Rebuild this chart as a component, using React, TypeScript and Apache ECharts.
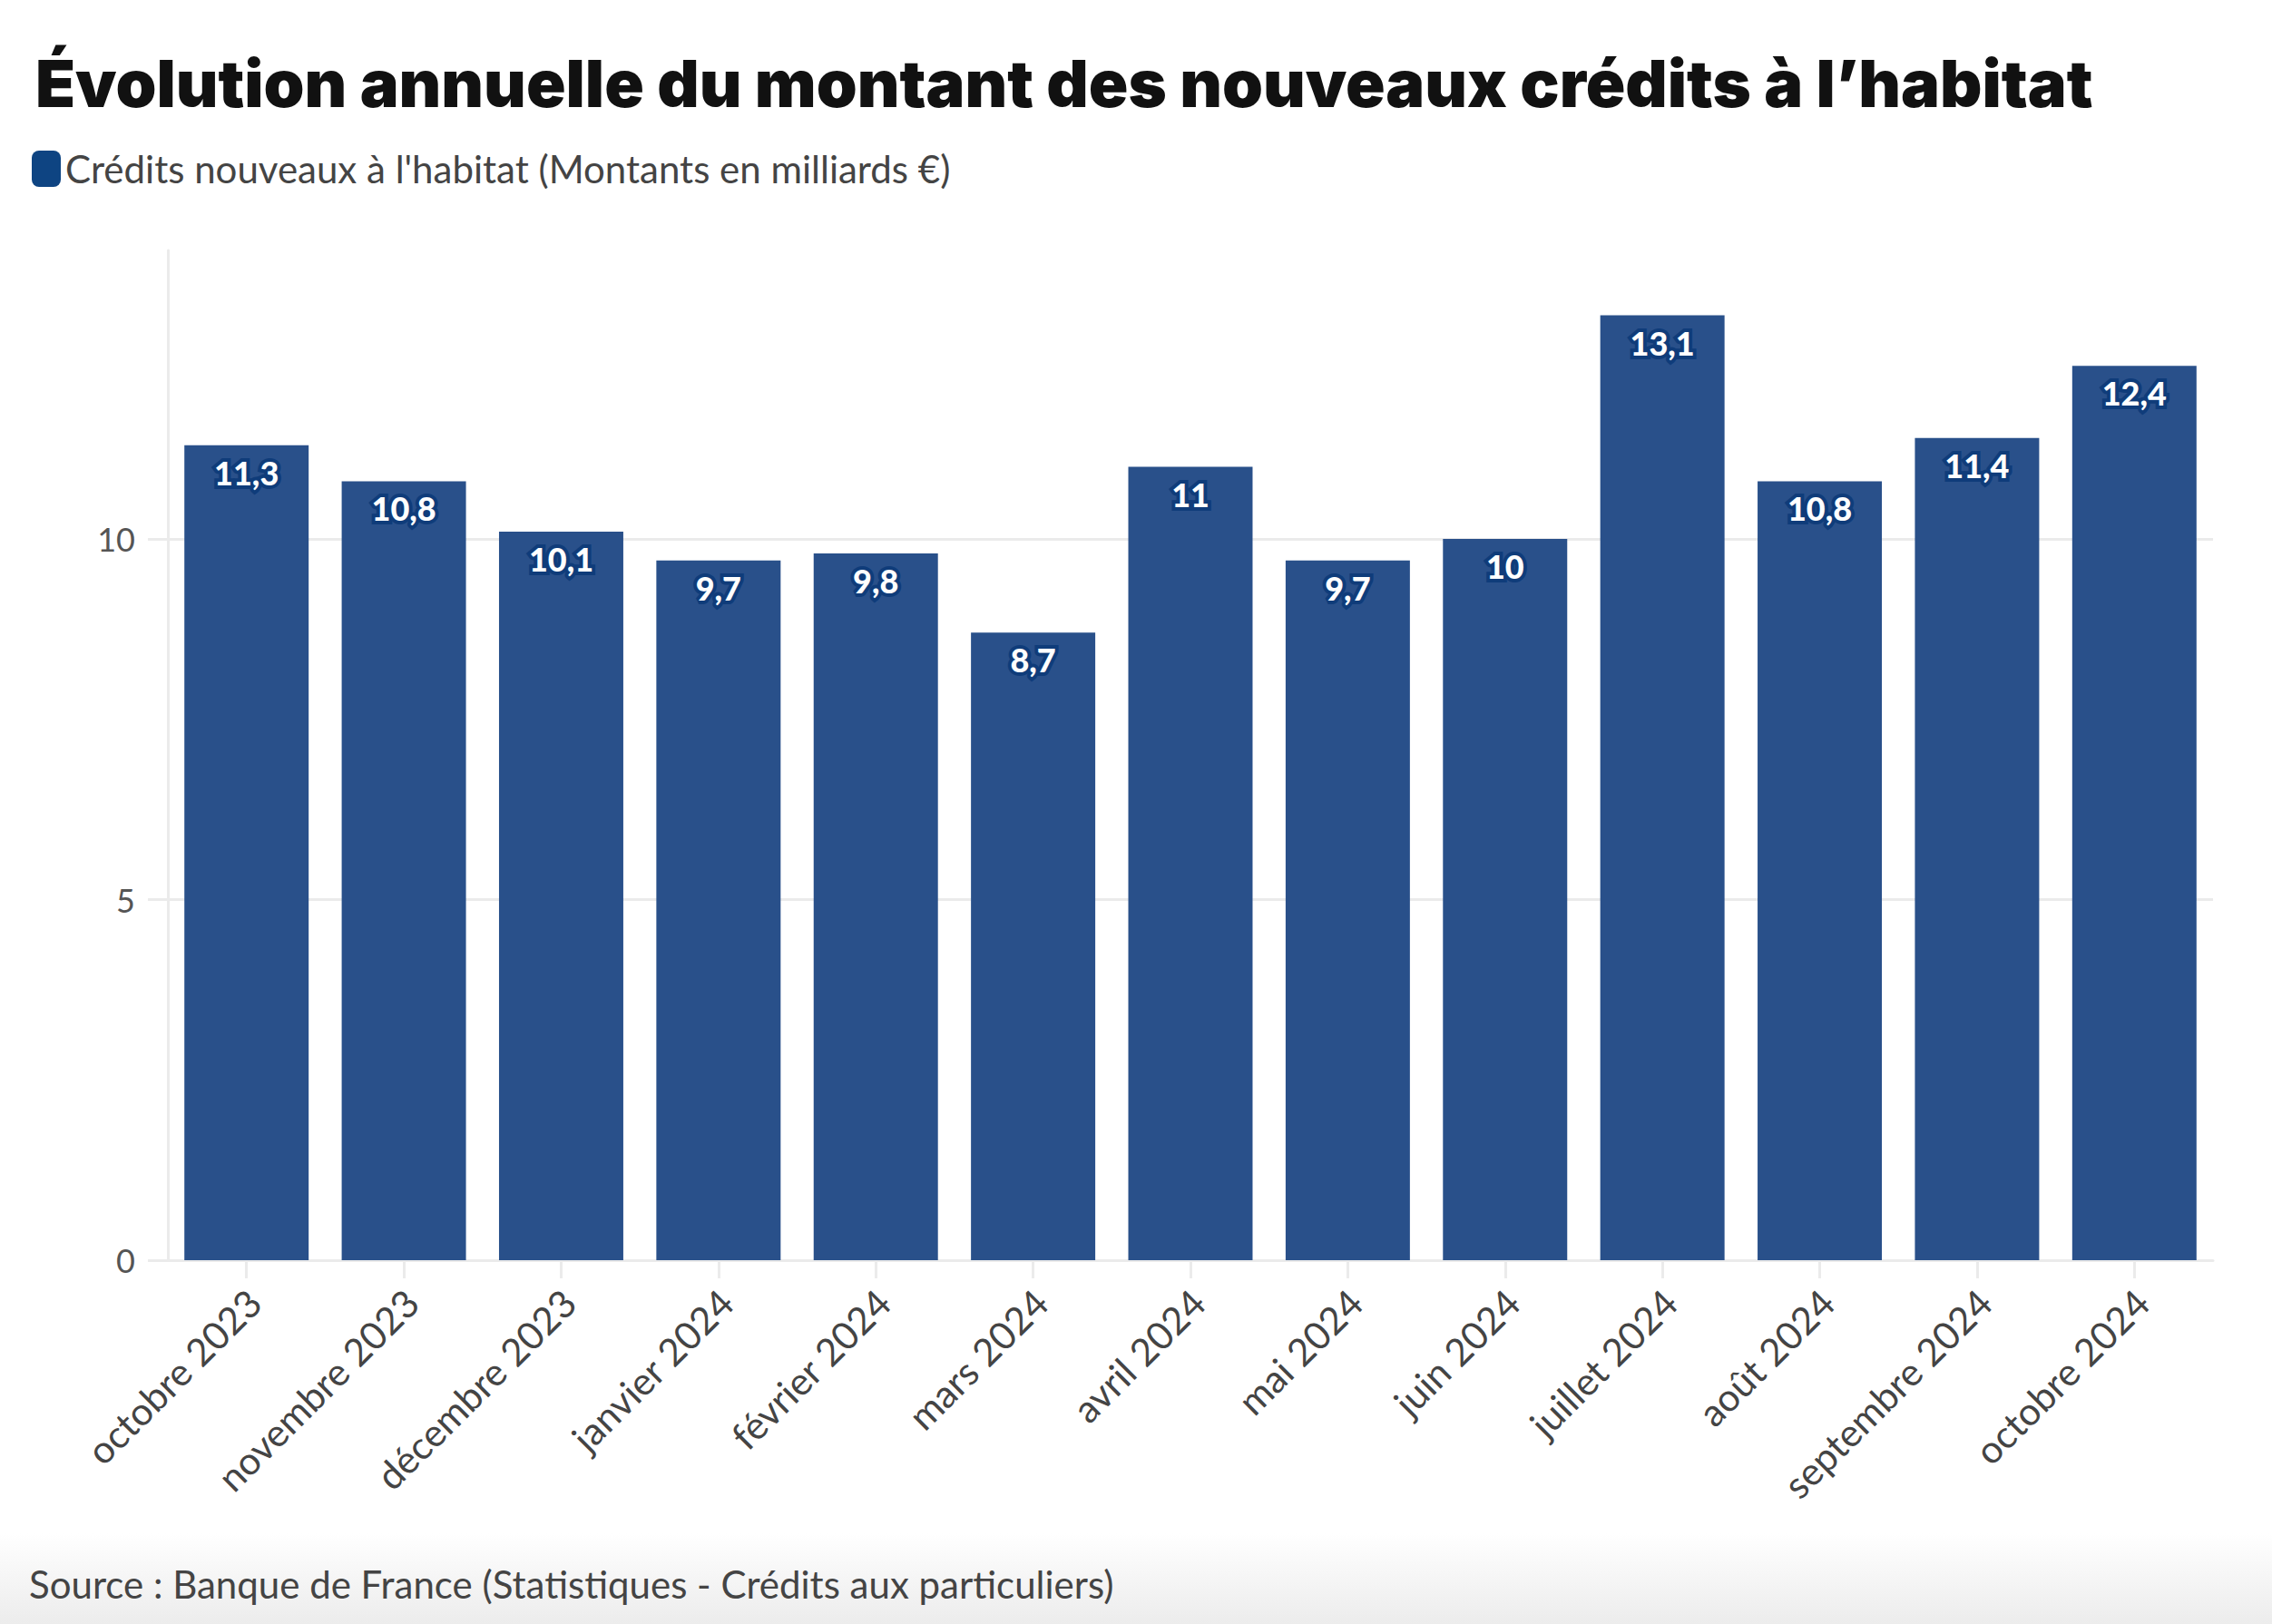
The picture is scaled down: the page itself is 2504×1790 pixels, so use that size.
import React, { useEffect, useRef } from "react";
import * as echarts from "echarts";

const categories = [
  "octobre 2023",
  "novembre 2023",
  "décembre 2023",
  "janvier 2024",
  "février 2024",
  "mars 2024",
  "avril 2024",
  "mai 2024",
  "juin 2024",
  "juillet 2024",
  "août 2024",
  "septembre 2024",
  "octobre 2024",
];
const values = [11.3, 10.8, 10.1, 9.7, 9.8, 8.7, 11, 9.7, 10, 13.1, 10.8, 11.4, 12.4];
const yTicks = [0, 5, 10];
const seriesName = "Crédits nouveaux à l'habitat (Montants en milliards €)";
const titleText = "Évolution annuelle du montant des nouveaux crédits à l’habitat";
const sourceText = "Source : Banque de France (Statistiques - Crédits aux particuliers)";

export default function App() {
  const ref = useRef<HTMLDivElement>(null);
  useEffect(() => {
    if (!ref.current) return;
    const chart = echarts.init(ref.current, null, { renderer: "svg" });
    const grid = "#ebebeb";
    chart.setOption({
      animation: false,
      backgroundColor: "#ffffff",
      title: {
        text: titleText,
        left: 34,
        top: 50,
        textStyle: {
          fontFamily: "Inter",
          fontWeight: 900,
          fontSize: 72,
          color: "#111111",
        },
      },
      legend: {
        left: 30,
        top: 160,
        itemWidth: 32,
        itemHeight: 40,
        itemGap: 10,
        icon: "roundRect",
        data: [{ name: seriesName, itemStyle: { color: "#0e4482" } }],
        textStyle: {
          fontFamily: "Lato",
          fontSize: 42,
          color: "#444444",
        },
      },
      grid: { left: 185, right: 65, top: 276, bottom: 401, containLabel: false },
      xAxis: {
        type: "category",
        data: categories,
        axisLine: { show: true, lineStyle: { color: grid, width: 3 } },
        axisTick: {
          show: true,
          alignWithLabel: true,
          length: 20,
          lineStyle: { color: grid, width: 3 },
        },
        axisLabel: {
          rotate: 45,
          margin: 48,
          interval: 0,
          fontFamily: "Lato",
          fontSize: 42,
          color: "#444444",
          padding: [0, -12, 0, 0],
        },
      },
      yAxis: {
        type: "value",
        min: 0,
        max: 14,
        interval: 5,
        axisLine: { show: true, lineStyle: { color: grid, width: 3 } },
        axisTick: {
          show: true,
          length: 22,
          customValues: yTicks,
          lineStyle: { color: grid, width: 3 },
        },
        splitLine: {
          show: true,
          lineStyle: { color: grid, width: 3 },
        },
        axisLabel: {
          customValues: yTicks,
          margin: 36,
          fontFamily: "Lato",
          fontSize: 36,
          color: "#555555",
        },
      },
      series: [
        {
          name: seriesName,
          type: "bar",
          data: values,
          barCategoryGap: "21%",
          itemStyle: { color: "#29508a" },
          label: {
            show: true,
            position: "insideTop",
            distance: 12,
            fontFamily: "Lato",
            fontWeight: 900,
            fontSize: 36,
            color: "#ffffff",
            textBorderColor: "#0f3c7a",
            textBorderWidth: 8,
            formatter: (p: any) => String(p.value).replace(".", ","),
          },
        },
      ],
      graphic: [
        {
          type: "rect",
          left: 0,
          top: 1690,
          shape: { width: 2504, height: 100 },
          silent: true,
          z: -10,
          style: {
            fill: new echarts.graphic.LinearGradient(0, 0, 0, 1, [
              { offset: 0, color: "#ffffff" },
              { offset: 1, color: "#ececec" },
            ]),
          },
        },
        {
          type: "text",
          left: 32,
          top: 1725,
          style: {
            text: sourceText,
            fontFamily: "Lato",
            fontSize: 42,
            fill: "#444444",
          },
        },
      ],
    });
    return () => chart.dispose();
  }, []);
  return (
    <div
      ref={ref}
      style={{ position: "absolute", left: 0, top: 0, width: 2504, height: 1790 }}
    />
  );
}
